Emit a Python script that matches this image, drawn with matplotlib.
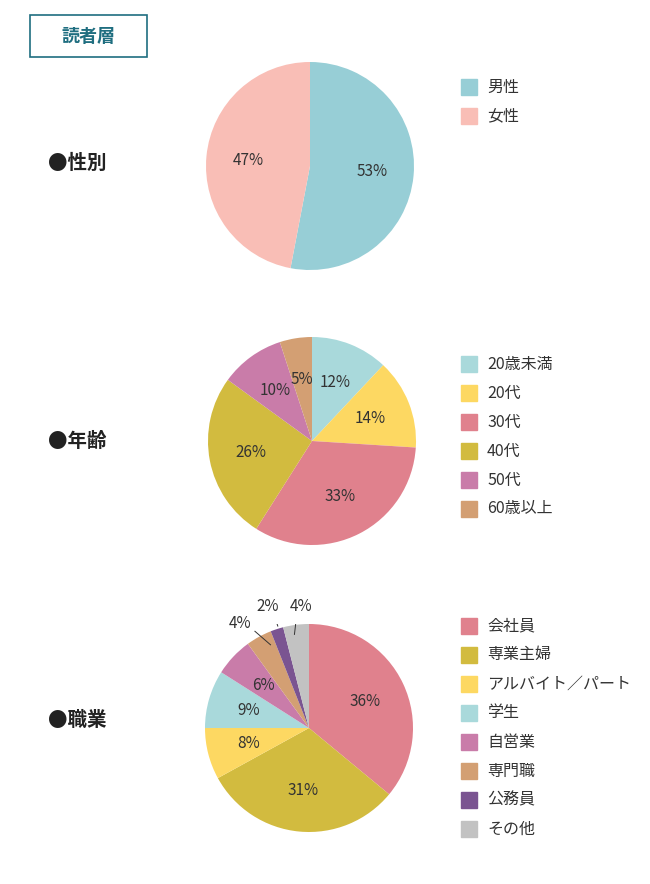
import matplotlib
matplotlib.use("Agg")
import matplotlib.pyplot as plt
from matplotlib.patches import Rectangle

plt.rcParams["font.family"] = "Noto Sans CJK JP"

gender_labels = ["男性", "女性"]
gender_values = [53, 47]
gender_colors = ["#97CED6", "#F9BEB6"]

age_labels = ["20歳未満", "20代", "30代", "40代", "50代", "60歳以上"]
age_values = [12, 14, 33, 26, 10, 5]
age_colors = ["#A9D9DB", "#FDD862", "#E0818D", "#D2BB3F", "#C97CA9", "#D39F73"]

job_labels = ["会社員", "専業主婦", "アルバイト／パート", "学生", "自営業", "専門職", "公務員", "その他"]
job_values = [36, 31, 8, 9, 6, 4, 2, 4]
job_colors = ["#E0818D", "#D2BB3F", "#FDD862", "#A9D9DB", "#C97CA9", "#D39F73", "#7A5491", "#C2C2C2"]

W, H = 650, 884
fig = plt.figure(figsize=(W/100, H/100), dpi=100)

def ax_px(cx, cy, r):
    return fig.add_axes([(cx-r)/W, 1-(cy+r)/H, 2*r/W, 2*r/H])

# title box
fig.patches.append(Rectangle((30/W, 1-57/H), 117/W, 42/H, transform=fig.transFigure,
                             fill=False, edgecolor="#1F6E80", lw=1.2))
fig.text(88/W, 1-36/H, "読者層", color="#1F6E80", fontsize=13, fontweight="bold",
         ha="center", va="center")

def pie(cx, cy, r, vals, cols, labels, heading, hy, legend_y, label_r=0.6, small=None):
    ax = ax_px(cx, cy, r)
    wedges, _ = ax.pie(vals, colors=cols, startangle=90, counterclock=False,
                       wedgeprops=dict(linewidth=0))
    import numpy as np
    for i, w in enumerate(wedges):
        ang = np.deg2rad((w.theta1 + w.theta2) / 2)
        if small and i in small:
            tx, ty, lx, ly = small[i]
            ax.text(tx, ty, f"{vals[i]}%", ha="center", va="center", fontsize=11, color="#333333")
            ax.plot([lx[0], lx[1]], [ly[0], ly[1]], color="#333333", lw=0.7)
        else:
            ax.text(label_r*np.cos(ang), label_r*np.sin(ang), f"{vals[i]}%",
                    ha="center", va="center", fontsize=11, color="#333333")
    ax.set_xlim(-1, 1); ax.set_ylim(-1, 1); ax.axis("off")
    fig.text(48/W, 1-hy/H, "●" + heading, fontsize=14, fontweight="bold", va="center", color="#222222")
    for i, (lab, c) in enumerate(zip(labels, cols)):
        y = legend_y + i*29
        fig.patches.append(Rectangle((461/W, 1-(y+8)/H), 16/W, 16/H,
                                     transform=fig.transFigure, color=c))
        fig.text(487/W, 1-y/H, lab, fontsize=11.5, va="center", color="#333333")

pie(310, 166, 104, gender_values, gender_colors, gender_labels, "性別", 163, 87)
pie(312, 441, 104, age_values, age_colors, age_labels, "年齢", 441, 364)
small = {
    5: (-0.66, 1.0, (-0.52, -0.37), (0.93, 0.80)),
    6: (-0.40, 1.17, (-0.33, -0.30), (1.07, 0.98)),
    7: (-0.08, 1.17, (-0.12, -0.14), (1.07, 0.90)),
}
pie(309, 728, 104, job_values, job_colors, job_labels, "職業", 720, 626, small=small)

fig.savefig("out.png", dpi=100)
